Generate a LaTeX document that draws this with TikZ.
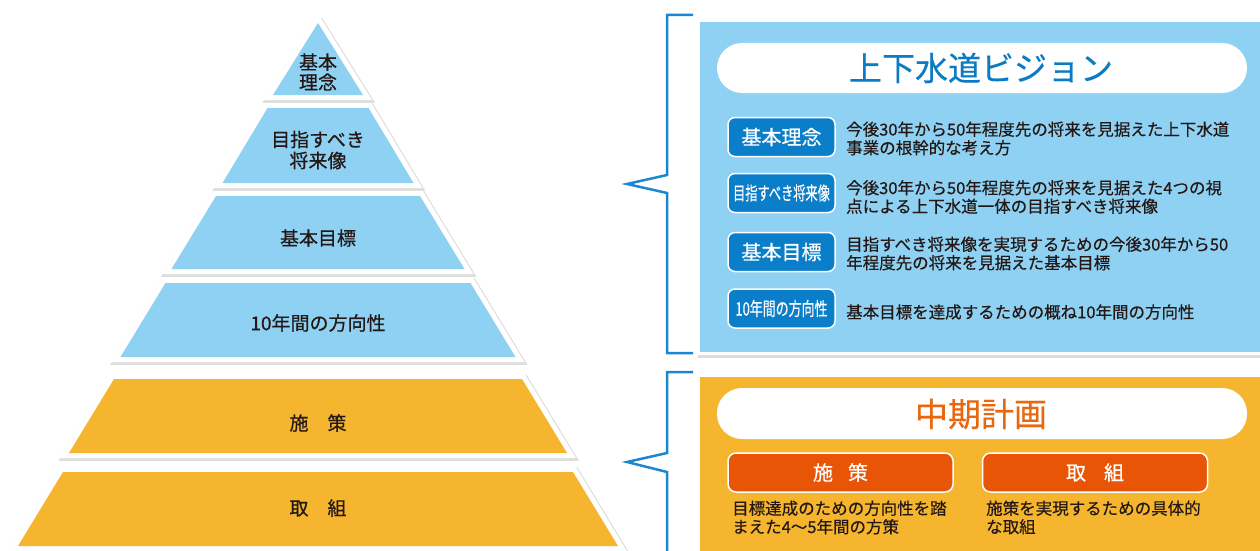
\documentclass[tikz,border=0pt]{standalone}
\usepackage{fontspec}
\usepackage{graphicx}
\setmainfont{Noto Sans CJK JP}
\newfontfamily\jpmed[FakeBold=0.6]{Noto Sans CJK JP}
\newfontfamily\jplight[FakeBold=0.35]{Noto Sans CJK JP}
\definecolor{pyblue}{HTML}{8ED1F2}
\definecolor{pyorange}{HTML}{F6B52E}
\definecolor{labblue}{HTML}{0A7EC8}
\definecolor{titleblue}{HTML}{0B7BC4}
\definecolor{titleorange}{HTML}{E9670F}
\definecolor{boxorange}{HTML}{E85507}
\definecolor{brblue}{HTML}{1B87D0}
\definecolor{ink}{HTML}{231815}
\tikzset{
  tiershadow/.style={draw=black!13, fill=black!13, line width=12.5pt, line join=miter},
  tierborder/.style={draw=white, fill=white, line width=10pt, line join=miter},
  tiertext/.style={text=ink, font=\jpmed\fontsize{19}{21}\selectfont, align=center, inner sep=0pt},
  bracket/.style={draw=brblue, line width=2.5pt},
  pill/.style={fill=white, rounded corners=25pt},
  labbox/.style={draw=white, line width=1.5pt, fill=labblue, rounded corners=7pt, minimum width=107pt, minimum height=39pt, inner sep=0pt, text=white, font=\jpmed\fontsize{20}{22}\selectfont},
  orbox/.style={draw=white, line width=1.5pt, fill=boxorange, rounded corners=8pt, minimum width=225pt, minimum height=39pt, inner sep=0pt, text=white, font=\jpmed\fontsize{20}{22}\selectfont},
  desc/.style={anchor=west, align=left, text=ink, inner sep=0pt, font=\jplight\fontsize{16.5}{18.5}\selectfont},
}
% \mytier{name}{topY}{botY}{topHalf}{botHalf}{color}
\newcommand{\mytier}[6]{%
  \path[tiershadow] ([shift={(0.8,1.5)}]318-#4,#2) -- ([shift={(0.8,1.5)}]318+#4,#2) -- ([shift={(0.8,1.5)}]318+#5,#3) -- ([shift={(0.8,1.5)}]318-#5,#3) -- cycle;
  \path[tierborder] (318-#4,#2) -- (318+#4,#2) -- (318+#5,#3) -- (318-#5,#3) -- cycle;
  \fill[#6] (318-#4,#2) -- (318+#4,#2) -- (318+#5,#3) -- (318-#5,#3) -- cycle;
  \coordinate (#1) at (318,{(#2+#3)/2});
}
\begin{document}
\begin{tikzpicture}[x=1pt,y=-1pt]
\useasboundingbox (0,0) rectangle (1260,551);
\fill[white] (0,0) rectangle (1260,551);

% ---------- pyramid ----------
\mytier{t1}{23}{95}{0.01}{45}{pyblue}
\mytier{t2}{108}{183}{50.5}{95.5}{pyblue}
\mytier{t3}{196}{269}{102}{146.5}{pyblue}
\mytier{t4}{283}{357}{152.5}{197.5}{pyblue}
\mytier{t5}{379}{453}{204}{249}{pyorange}
\mytier{t6}{472}{546}{255}{300}{pyorange}

\node[tiertext, font=\jpmed\fontsize{19}{20}\selectfont] (n1) at (318,72) {基本\\理念};
\node[tiertext] (n2) at (318,150) {目指すべき\\将来像};
\node[tiertext] (n3) at (318,238) {基本目標};
\node[tiertext] (n4) at (318,323) {10年間の方向性};
\node[tiertext] (n5) at (318,423) {施　策};
\node[tiertext] (n6) at (318,508) {取　組};

% ---------- brackets ----------
\draw[bracket] (693,15) -- (667,15) -- (667,175) -- (627,184) -- (667,193) -- (667,353) -- (693,353);
\draw[bracket] (693,372) -- (667,372) -- (667,453) -- (627,462) -- (667,472) -- (667,560);

% ---------- blue panel ----------
\fill[black!14] (698,19) rectangle (1265,358);
\fill[white, rounded corners=3pt] (696,16) rectangle (1265,355);
\fill[pyblue] (700,22) rectangle (1265,352);
\path[pill] (717,43) rectangle (1247,93);
\node[text=titleblue, font=\jplight\fontsize{33}{36}\selectfont, inner sep=0pt] (vt) at (981,68) {上下水道ビジョン};

\node[labbox] (l1) at (781.5,137) {基本理念};
\node[labbox] (l2) at (781.5,193) {\fontsize{18.5}{20}\selectfont\scalebox{0.66}[1]{目指すべき将来像}};
\node[labbox] (l3) at (781.5,252) {基本目標};
\node[labbox] (l4) at (781.5,308.5) {\fontsize{18.5}{20}\selectfont\scalebox{0.70}[1]{10年間の方向性}};

\node[desc] (d1) at (846,138.5) {今後30年から50年程度先の将来を見据えた上下水道\\事業の根幹的な考え方};
\node[desc] (d2) at (846,197) {今後30年から50年程度先の将来を見据えた4つの視\\点による上下水道一体の目指すべき将来像};
\node[desc] (d3) at (846,253.5) {目指すべき将来像を実現するための今後30年から50\\年程度先の将来を見据えた基本目標};
\node[desc] (d4) at (846,312) {基本目標を達成するための概ね10年間の方向性};

% ---------- orange panel ----------
\fill[black!14] (698,375) rectangle (1265,560);
\fill[white, rounded corners=3pt] (696,372) rectangle (1265,560);
\fill[pyorange] (700,377) rectangle (1265,560);
\path[pill] (717,388) rectangle (1247,439);
\node[text=titleorange, font=\jplight\fontsize{33}{36}\selectfont, inner sep=0pt] (mt) at (981,414) {中期計画};

\node[orbox] (o1) at (840.5,472.5) {施\hspace{15pt}策};
\node[orbox] (o2) at (1095,472.5) {取\hspace{18pt}組};

\node[desc] (e1) at (732,517.5) {目標達成のための方向性を踏\\まえた4〜5年間の方策};
\node[desc] (e2) at (986,517.5) {施策を実現するための具体的\\な取組};
\end{tikzpicture}
\end{document}
